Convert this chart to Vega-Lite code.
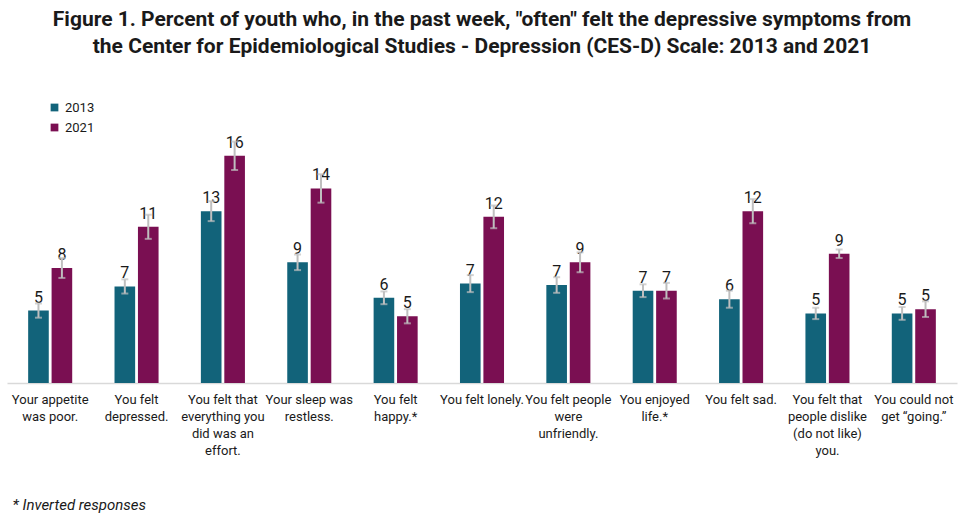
{
  "$schema": "https://vega.github.io/schema/vega-lite/v6.json",
  "width": 950,
  "height": 284,
  "autosize": "none",
  "padding": {"left": 7, "top": 99, "right": 13, "bottom": 138},
  "background": "white",
  "title": {
    "text": ["Figure 1. Percent of youth who, in the past week, \"often\" felt the depressive symptoms from", "the Center for Epidemiological Studies - Depression (CES-D) Scale: 2013 and 2021"],
    "font": "Roboto",
    "fontSize": 21,
    "fontWeight": "bold",
    "color": "#1a1a1a",
    "anchor": "middle",
    "offset": 42,
    "lineHeight": 27
  },
  "config": {
    "view": {"stroke": null},
    "font": "Roboto"
  },
  "data": {
    "values": [
      {"item": "Your appetite was poor.", "year": "2013", "value": 5.1, "label": "5", "lo": 4.6, "hi": 5.6},
      {"item": "Your appetite was poor.", "year": "2021", "value": 8.1, "label": "8", "lo": 7.4, "hi": 8.8},
      {"item": "You felt depressed.", "year": "2013", "value": 6.8, "label": "7", "lo": 6.3, "hi": 7.3},
      {"item": "You felt depressed.", "year": "2021", "value": 11.0, "label": "11", "lo": 10.15, "hi": 11.85},
      {"item": "You felt that everything you did was an effort.", "year": "2013", "value": 12.1, "label": "13", "lo": 11.4, "hi": 12.8},
      {"item": "You felt that everything you did was an effort.", "year": "2021", "value": 16.0, "label": "16", "lo": 15.0, "hi": 17.0},
      {"item": "Your sleep was restless.", "year": "2013", "value": 8.5, "label": "9", "lo": 7.95, "hi": 9.05},
      {"item": "Your sleep was restless.", "year": "2021", "value": 13.7, "label": "14", "lo": 12.7, "hi": 14.7},
      {"item": "You felt happy.*", "year": "2013", "value": 6.0, "label": "6", "lo": 5.55, "hi": 6.45},
      {"item": "You felt happy.*", "year": "2021", "value": 4.7, "label": "5", "lo": 4.2, "hi": 5.2},
      {"item": "You felt lonely.", "year": "2013", "value": 7.0, "label": "7", "lo": 6.4, "hi": 7.6},
      {"item": "You felt lonely.", "year": "2021", "value": 11.7, "label": "12", "lo": 10.9, "hi": 12.5},
      {"item": "You felt people were unfriendly.", "year": "2013", "value": 6.9, "label": "7", "lo": 6.35, "hi": 7.45},
      {"item": "You felt people were unfriendly.", "year": "2021", "value": 8.5, "label": "9", "lo": 7.8, "hi": 9.2},
      {"item": "You enjoyed life.*", "year": "2013", "value": 6.5, "label": "7", "lo": 6.05, "hi": 6.95},
      {"item": "You enjoyed life.*", "year": "2021", "value": 6.5, "label": "7", "lo": 5.95, "hi": 7.05},
      {"item": "You felt sad.", "year": "2013", "value": 5.9, "label": "6", "lo": 5.3, "hi": 6.5},
      {"item": "You felt sad.", "year": "2021", "value": 12.1, "label": "12", "lo": 11.25, "hi": 12.95},
      {"item": "You felt that people dislike (do not like) you.", "year": "2013", "value": 4.9, "label": "5", "lo": 4.5, "hi": 5.3},
      {"item": "You felt that people dislike (do not like) you.", "year": "2021", "value": 9.1, "label": "9", "lo": 8.8, "hi": 9.4},
      {"item": "You could not get \u201cgoing.\u201d", "year": "2013", "value": 4.9, "label": "5", "lo": 4.45, "hi": 5.35},
      {"item": "You could not get \u201cgoing.\u201d", "year": "2021", "value": 5.2, "label": "5", "lo": 4.65, "hi": 5.75}
    ]
  },
  "encoding": {
    "x": {
      "field": "item",
      "type": "nominal",
      "sort": null,
      "scale": {"paddingInner": 0.49, "paddingOuter": 0.245},
      "axis": {
        "title": "* Inverted responses",
        "titleFont": "Roboto",
        "titleFontSize": 15,
        "titleFontStyle": "italic",
        "titleFontWeight": "normal",
        "titleColor": "#1a1a1a",
        "titleX": 5,
        "titleY": 126,
        "titleAlign": "left",
        "titleAnchor": "start",
        "titleBaseline": "alphabetic",
        "labelAngle": 0,
        "labelFont": "Roboto",
        "labelFontSize": 13,
        "labelColor": "#1a1a1a",
        "labelPadding": 10,
        "labelLineHeight": 17,
        "labelLimit": 200,
        "labelBaseline": "top",
        "ticks": false,
        "domainColor": "#d9d9d9",
        "domainWidth": 1.5,
        "labelExpr": "{'Your appetite was poor.': ['Your appetite', 'was poor.'], 'You felt depressed.': ['You felt', 'depressed.'], 'You felt that everything you did was an effort.': ['You felt that', 'everything you', 'did was an', 'effort.'], 'Your sleep was restless.': ['Your sleep was', 'restless.'], 'You felt happy.*': ['You felt', 'happy.*'], 'You felt lonely.': ['You felt lonely.'], 'You felt people were unfriendly.': ['You felt people', 'were', 'unfriendly.'], 'You enjoyed life.*': ['You enjoyed', 'life.*'], 'You felt sad.': ['You felt sad.'], 'You felt that people dislike (do not like) you.': ['You felt that', 'people dislike', '(do not like)', 'you.'], 'You could not get \u201cgoing.\u201d': ['You could not', 'get \u201cgoing.\u201d']}[datum.value]"
      }
    },
    "xOffset": {"field": "year", "type": "nominal", "scale": {"paddingInner": 0.12}}
  },
  "layer": [
    {
      "mark": {"type": "bar"},
      "encoding": {
        "y": {"field": "value", "type": "quantitative", "scale": {"domain": [0, 20]}, "axis": null},
        "color": {
          "field": "year",
          "type": "nominal",
          "scale": {"domain": ["2013", "2021"], "range": ["#12637a", "#7a0f52"]},
          "legend": {
            "title": null,
            "orient": "none",
            "legendX": 41,
            "legendY": 2,
            "symbolType": "square",
            "symbolSize": 60,
            "symbolStrokeWidth": 0,
            "labelFont": "Roboto",
            "labelFontSize": 13,
            "labelColor": "#1a1a1a",
            "rowPadding": 6,
            "labelOffset": 4
          }
        }
      }
    },
    {
      "mark": {"type": "text", "fontSize": 16, "color": "#1a1a1a", "baseline": "alphabetic", "dy": -8},
      "encoding": {
        "y": {"field": "value", "type": "quantitative"},
        "text": {"field": "label"}
      }
    },
    {
      "mark": {"type": "rule", "color": "#bfbfbf", "strokeWidth": 2},
      "encoding": {
        "y": {"field": "lo", "type": "quantitative"},
        "y2": {"field": "hi"}
      }
    },
    {
      "mark": {"type": "tick", "color": "#bfbfbf", "orient": "horizontal", "size": 7, "thickness": 2},
      "encoding": {
        "y": {"field": "lo", "type": "quantitative"}
      }
    },
    {
      "mark": {"type": "tick", "color": "#bfbfbf", "orient": "horizontal", "size": 7, "thickness": 2},
      "encoding": {
        "y": {"field": "hi", "type": "quantitative"}
      }
    }
  ]
}
